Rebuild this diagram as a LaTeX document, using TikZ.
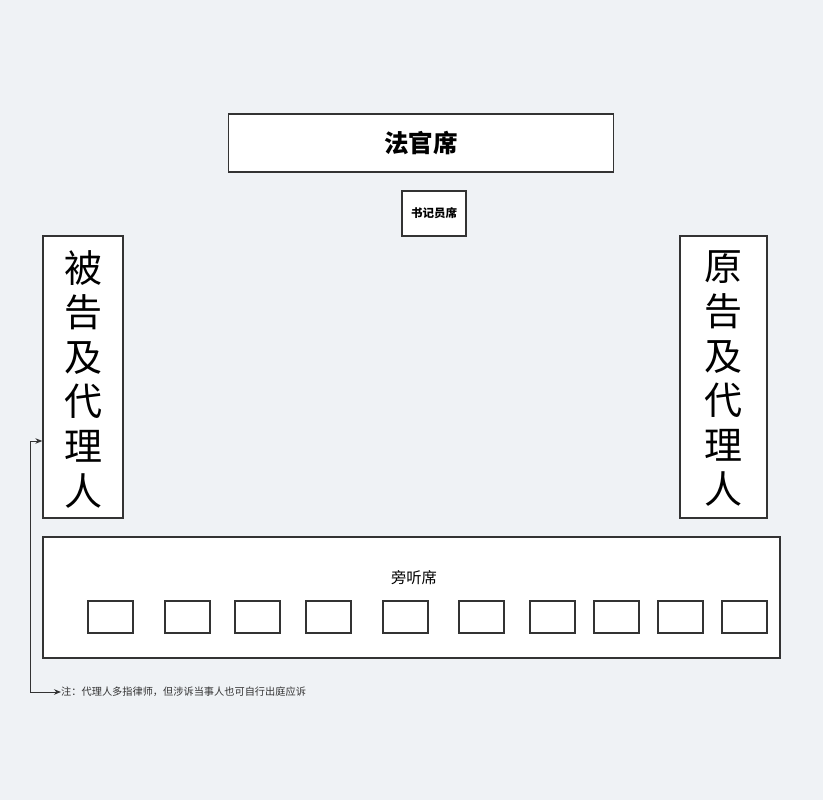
\documentclass[tikz,border=0pt]{standalone}
\usepackage{fontspec}
\setmainfont{Noto Sans CJK SC}
\usetikzlibrary{arrows.meta}
\definecolor{bgc}{HTML}{EFF2F5}
\definecolor{linec}{HTML}{333333}
\tikzset{ntip/.tip={Stealth[length=7pt,width=5.5pt]}}
\begin{document}
\begin{tikzpicture}[x=1pt,y=-1pt,
  box/.style={draw=linec,line width=1.3pt,fill=white,inner sep=0pt},
  seat/.style={box,minimum width=45pt,minimum height=32pt},
  vtext/.style={font=\fontsize{38}{44.6}\selectfont,align=center},
]
\useasboundingbox[fill=bgc] (0,0) rectangle (823,800);
% judge
\node[box,minimum width=385pt,minimum height=58pt,font=\fontsize{24.5}{28}\selectfont\bfseries] (judge) at (421,143) {法官席};
% clerk
\node[box,minimum width=64pt,minimum height=45pt,font=\fontsize{11.5}{14}\selectfont\bfseries] (clerk) at (434,213.5) {书记员席};
% defendant
\node[box,minimum width=80pt,minimum height=282pt] (def) at (83,377) {};
\node[vtext] (deft) at ([yshift=-2pt]def.center) {被\\告\\及\\代\\理\\人};
% plaintiff
\node[box,minimum width=87pt,minimum height=282pt] (pla) at (723.5,377) {};
\node[vtext] (plat) at ([yshift=-2pt]pla.center) {原\\告\\及\\代\\理\\人};
% gallery
\node[box,minimum width=737pt,minimum height=121pt] (gal) at (411.5,597.5) {};
\node[font=\fontsize{15.3}{18}\selectfont] (galt) at (414,578) {旁听席};
\foreach \i/\x in {1/110.5,2/187.5,3/257.5,4/328.5,5/405.5,6/481.5,7/552.5,8/616.5,9/680.5,10/744.5}{
  \node[seat] (s\i) at (\x,617) {};
}
% note
\node[anchor=west,inner sep=0pt,text=linec,font=\fontsize{10.2}{12}\selectfont] (note) at (61,692) {注：代理人多指律师，但涉诉当事人也可自行出庭应诉};
\coordinate (a) at ([yshift=-64pt]def.west);
\draw[linec,line width=1pt,ntip-ntip] (a) -- ++(-12,0) |- (note.west);
\end{tikzpicture}
\end{document}
